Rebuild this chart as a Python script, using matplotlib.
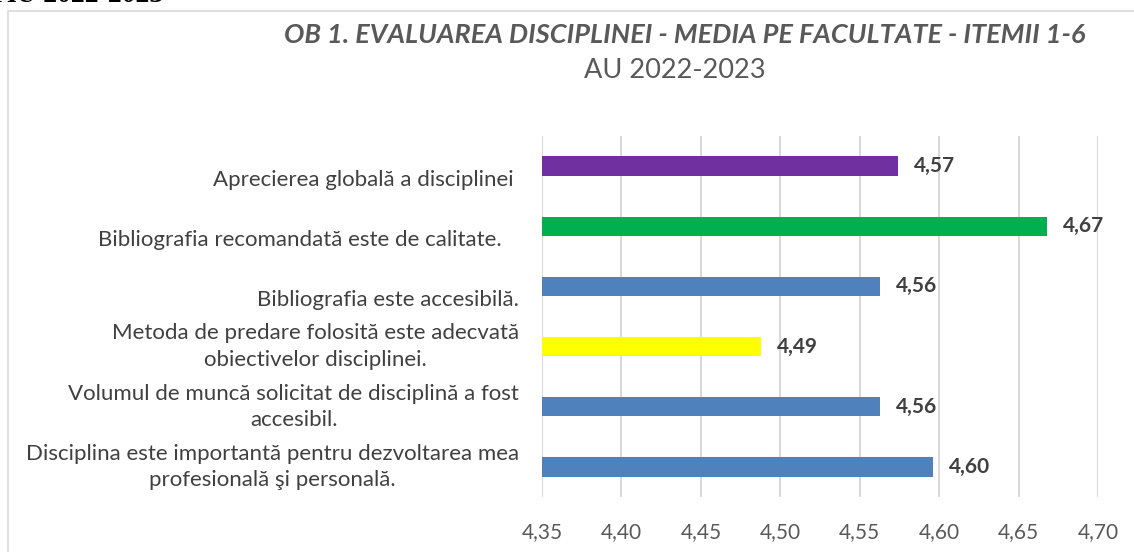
"""Horizontal bar chart: OB 1 course evaluation, faculty averages, items 1-6."""

import matplotlib.pyplot as plt
from matplotlib.patches import Rectangle

W, H, DPI = 1134, 552, 100

# bottom-to-top order, as drawn (trailing spaces as in the source labels)
items = [
    "Disciplina este importantă pentru dezvoltarea mea\nprofesională şi personală.",
    "Volumul de muncă solicitat de disciplină a fost\naccesibil.",
    "Metoda de predare folosită este adecvată\nobiectivelor disciplinei.",
    "Bibliografia este accesibilă.",
    "Bibliografia recomandată este de calitate.   ",
    "Aprecierea globală a disciplinei ",
]
scores = [4.596, 4.563, 4.488, 4.563, 4.668, 4.574]
bar_colors = ["#4F81BD", "#4F81BD", "#FFFF00", "#4F81BD", "#00B050", "#7030A0"]
x_ticks = [4.35, 4.40, 4.45, 4.50, 4.55, 4.60, 4.65, 4.70]

plt.rcParams["font.family"] = ["Lato", "DejaVu Sans"]

fig = plt.figure(figsize=(W / DPI, H / DPI), dpi=DPI)

# chart-area frame (clipped at right/bottom like the source)
fig.patches.append(Rectangle((8 / W, -0.1), 1.2, 1 - 11 / H + 0.1,
                             transform=fig.transFigure, fill=False,
                             edgecolor="#D9D9D9", lw=1.2))
# leftover heading from the page above, cut off at the top
fig.text(-4 / W, 1 - 2 / H, "AU 2022-2023", family="Liberation Serif",
         weight="bold", fontsize=20, va="baseline", ha="left", color="black")

ax = fig.add_axes([542 / W, (H - 497) / H, (1098 - 542) / W, (497 - 136) / H])
ypos = range(len(items))
ax.barh(ypos, scores, height=0.32, color=bar_colors, zorder=3)
ax.set_xlim(4.35, 4.70)
ax.set_ylim(-0.5, len(items) - 0.5)
ax.set_xticks(x_ticks, [f"{t:.2f}".replace(".", ",") for t in x_ticks])
ax.set_yticks([])
ax.tick_params(axis="x", length=0, pad=18, labelsize=15, labelcolor="#595959")
ax.grid(axis="x", color="#D9D9D9", lw=1.5, zorder=0)
for s in ax.spines.values():
    s.set_visible(False)

for i, (lab, v) in enumerate(zip(items, scores)):
    ax.annotate(f"{v:.2f}".replace(".", ","), xy=(v, i), xytext=(16 * 0.72, 0),
                textcoords="offset points", ha="left", va="center",
                fontsize=15, weight="bold", color="#404040")
    dy = 0 if "\n" in lab else -14
    ax.annotate(lab, xy=(0, i), xycoords=ax.get_yaxis_transform(),
                xytext=(-23 * 0.72, dy * 0.72), textcoords="offset points",
                ha="right", va="center", multialignment="center",
                fontsize=16, color="#404040", linespacing=1.4)

fig.text(685 / W, 1 - 35 / H, "OB 1. EVALUAREA DISCIPLINEI - MEDIA PE FACULTATE - ITEMII 1-6",
         ha="center", va="center", fontsize=19.5, weight="bold", style="italic",
         color="#595959")
fig.text(675 / W, 1 - 70 / H, "AU 2022-2023", ha="center", va="center",
         fontsize=19.5, color="#595959")

fig.savefig("out.png", dpi=DPI)
